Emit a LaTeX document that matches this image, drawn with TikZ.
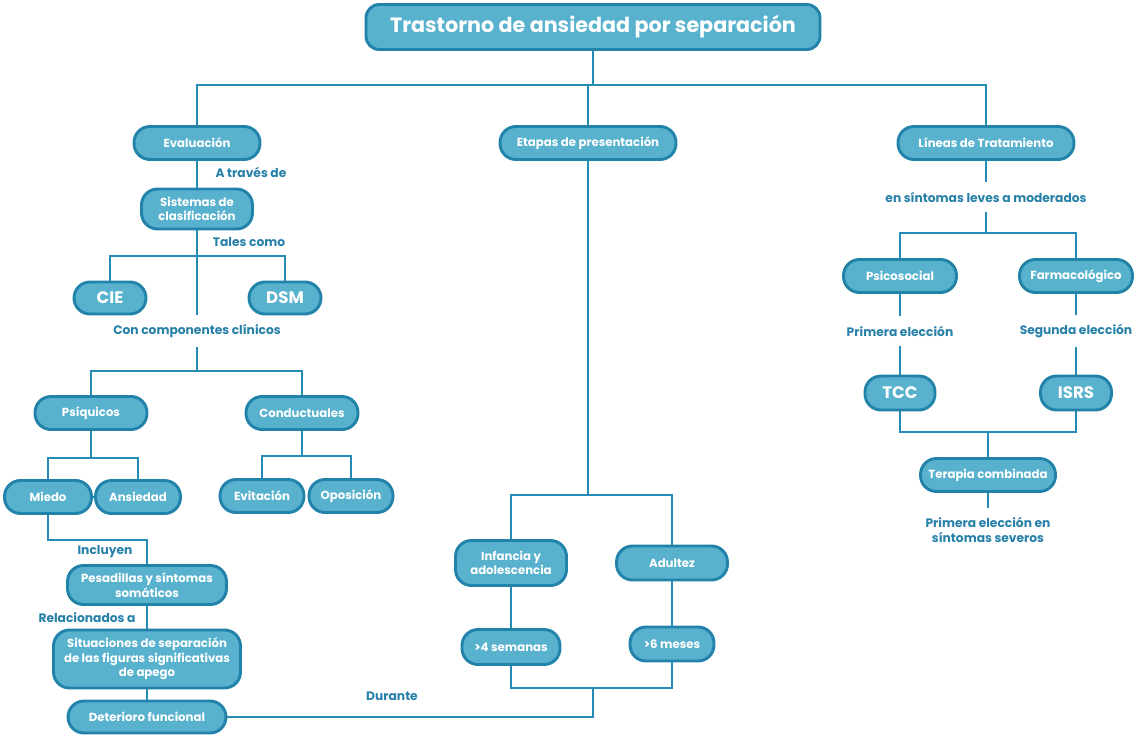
\documentclass[tikz,border=0pt]{standalone}
\usepackage{fontspec}
\setmainfont{Poppins}
\newlength{\pw}
\setlength{\pw}{0.75pt}
\begin{document}
\begin{tikzpicture}[x=0.75pt,y=-0.75pt]
      \definecolor{boxfill}{RGB}{88,178,206}
      \definecolor{boxedge}{RGB}{33,131,170}
      \definecolor{linecol}{RGB}{36,140,180}
      \definecolor{textcol}{RGB}{38,128,168}

      \tikzstyle{box}=[
        draw=boxedge,
        fill=boxfill,
        line width=2.2pt,
        rounded corners=12pt,
        text=white,
        align=center,
        inner sep=0pt,
        minimum height=33\pw,
        font=\bfseries\fontsize{8.8}{11}\selectfont
      ]
      \tikzstyle{bigbox}=[box, font=\bfseries\fontsize{12.5}{14}\selectfont]
      \tikzstyle{linktext}=[text=textcol, align=center, inner sep=5pt,
        font=\bfseries\fontsize{9.2}{11.5}\selectfont]
      \tikzstyle{line} = [line width=2pt, draw=linecol]

      \useasboundingbox (0,0) rectangle (1147,736);

      % title and main branches
      \node[box, minimum width=454\pw, minimum height=45\pw, rounded corners=10pt,
        font=\bfseries\fontsize{15.5}{18}\selectfont] (title) at (593,27) {Trastorno de ansiedad por separación};
      \node[box, minimum width=126\pw] (eval)   at (197,143) {Evaluación};
      \node[box, minimum width=176\pw] (etapas) at (588,143) {Etapas de presentación};
      \node[box, minimum width=176\pw] (lineas) at (986,143) {Líneas de Tratamiento};
      \coordinate (jm) at (593,85);

      % evaluacion
      \node[box, minimum width=111\pw, minimum height=40\pw] (sist) at (197,209) {Sistemas de\\clasificación};
      \node[bigbox, minimum width=72\pw, minimum height=32\pw] (cie) at (110,298) {CIE};
      \node[bigbox, minimum width=72\pw, minimum height=32\pw] (dsm) at (285,298) {DSM};
      \node[linktext] (atraves) at (251,172) {A través de};
      \node[linktext] (tales)   at (249,242) {Tales como};
      \node[linktext, inner sep=7pt] (comp) at (197,331) {Con componentes clínicos};
      \coordinate (jt) at (197,256);
      \coordinate (jc) at (197,371);

      \node[box, minimum width=112\pw] (psi)  at (91,413)  {Psíquicos};
      \node[box, minimum width=112\pw] (cond) at (302,413) {Conductuales};
      \node[box, minimum width=87\pw]  (miedo) at (48,497)  {Miedo};
      \node[box, minimum width=85\pw]  (ans)   at (138,497) {Ansiedad};
      \node[box, minimum width=84\pw]  (evit)  at (262,496) {Evitación};
      \node[box, minimum width=84\pw]  (opos)  at (351,496) {Oposición};
      \coordinate (jp) at (91,458);
      \coordinate (jd) at (302,456);
      \coordinate (ji) at (147,540);

      \node[box, minimum width=159\pw, minimum height=39\pw] (pes) at (147,585) {Pesadillas y síntomas\\somáticos};
      \node[box, minimum width=187\pw, minimum height=58\pw] (sit) at (147,659) {Situaciones de separación\\de las figuras significativas\\de apego};
      \node[box, minimum width=158\pw, minimum height=32\pw] (det) at (147,717) {Deterioro funcional};
      \node[linktext] (incl) at (105,552) {Incluyen};
      \node[linktext] (rel)  at (87,618)  {Relacionados a};
      \node[linktext] (dur)  at (392,696) {Durante};

      % etapas
      \node[box, minimum width=111\pw, minimum height=45\pw] (inf) at (511,563) {Infancia y\\adolescencia};
      \node[box, minimum width=111\pw, minimum height=34\pw] (adu) at (672,563) {Adultez};
      \node[box, minimum width=98\pw, minimum height=35\pw]  (sem) at (511,647) {>4 semanas};
      \node[box, minimum width=84\pw, minimum height=34\pw]  (mes) at (672,644) {>6 meses};
      \coordinate (je) at (588,495);
      \coordinate (jb) at (593,688);

      % tratamiento
      \node[linktext, inner sep=7pt] (leves) at (986,197) {en síntomas leves a moderados};
      \node[box, minimum width=113\pw] (psico) at (900,276)  {Psicosocial};
      \node[box, minimum width=113\pw] (farma) at (1076,276) {Farmacológico};
      \node[linktext, inner sep=7pt] (prim) at (900,331)  {Primera elección};
      \node[linktext, inner sep=7pt] (seg)  at (1076,331) {Segunda elección};
      \node[bigbox, minimum width=70\pw, minimum height=34\pw] (tcc)  at (900,393)  {TCC};
      \node[bigbox, minimum width=71\pw, minimum height=34\pw] (isrs) at (1076,393) {ISRS};
      \node[box, minimum width=135\pw] (terap) at (988,475) {Terapia combinada};
      \node[linktext, inner sep=7pt] (sev) at (988,530) {Primera elección en\\síntomas severos};
      \coordinate (jf) at (986,233);
      \coordinate (jg) at (988,432);

      % connectors
      \draw[line] (title) -- (jm);
      \draw[line] (eval) |- (jm) -| (lineas);
      \draw[line] (jm -| etapas) -- (etapas);
      \draw[line] (eval) -- (sist);
      \draw[line] (sist) -- (comp);
      \draw[line] (cie) |- (jt) -| (dsm);
      \draw[line] (comp) -- (jc);
      \draw[line] (psi) |- (jc) -| (cond);
      \draw[line] (psi) -- (jp);
      \draw[line] (miedo) |- (jp) -| (ans);
      \draw[line] (miedo) -- (ans);
      \draw[line] (cond) -- (jd);
      \draw[line] (evit) |- (jd) -| (opos);
      \draw[line] (miedo) |- (ji) -- (pes);
      \draw[line] (pes) -- (sit);
      \draw[line] (sit) -- (det);
      \draw[line] (det) -| (jb);
      \draw[line] (etapas) -- (je);
      \draw[line] (inf) |- (je) -| (adu);
      \draw[line] (inf) -- (sem);
      \draw[line] (adu) -- (mes);
      \draw[line] (sem) |- (jb) -| (mes);
      \draw[line] (lineas) -- (leves);
      \draw[line] (leves) -- (jf);
      \draw[line] (psico) |- (jf) -| (farma);
      \draw[line] (psico) -- (prim);
      \draw[line] (prim) -- (tcc);
      \draw[line] (farma) -- (seg);
      \draw[line] (seg) -- (isrs);
      \draw[line] (tcc) |- (jg) -| (isrs);
      \draw[line] (jg) -- (terap);
      \draw[line] (terap) -- (sev);
\end{tikzpicture}
\end{document}
